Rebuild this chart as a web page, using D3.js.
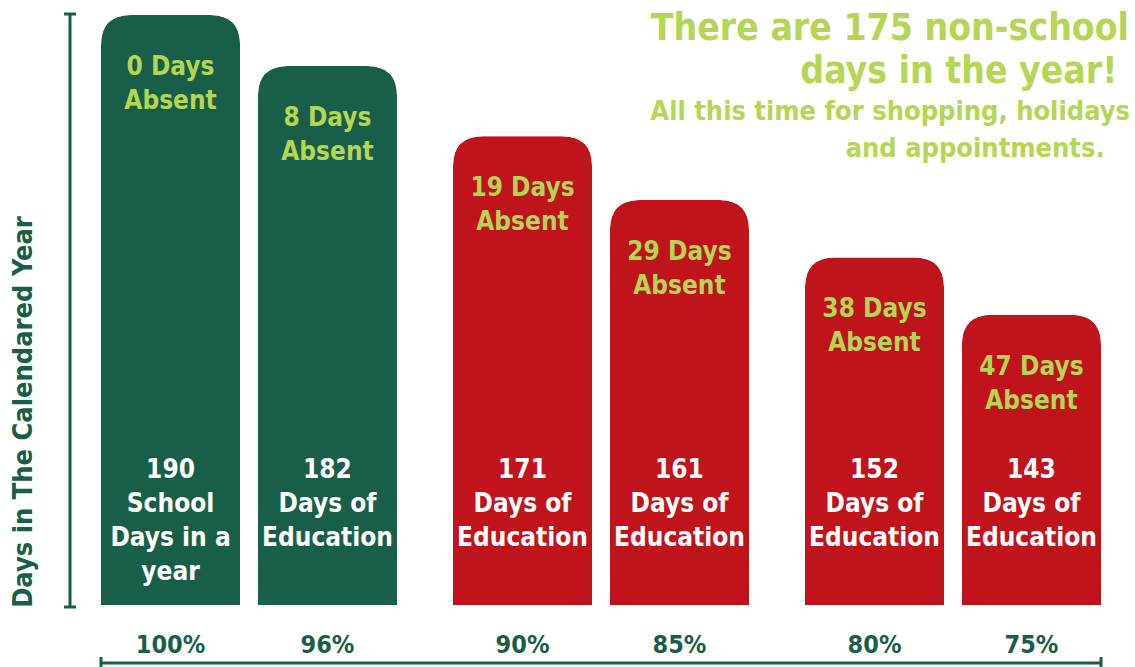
<!DOCTYPE html>
<html>
<head>
<meta charset="utf-8">
<script src="https://cdn.jsdelivr.net/npm/d3@7"></script>
<style>
  body { margin: 0; background: #fff; }
  text { font-family: "DejaVu Sans Condensed", "DejaVu Sans", sans-serif; font-weight: bold; }
</style>
</head>
<body>
<div class="chart"></div>
<script>
var svgWidth = 1135;
var svgHeight = 667;

// data
var groups = ["g1", "g1", "g2", "g2", "g3", "g3"];
var slots = [0, 1, 0, 1, 0, 1];
var attendance = ["100%", "96%", "90%", "85%", "80%", "75%"];
var educationDays = [190, 182, 171, 161, 152, 143];
var absentDays = [0, 8, 19, 29, 38, 47];
var bottomLines = [
  ["190", "School", "Days in a", "year"],
  ["182", "Days of", "Education"],
  ["171", "Days of", "Education"],
  ["161", "Days of", "Education"],
  ["152", "Days of", "Education"],
  ["143", "Days of", "Education"]
];
var barColors = ["#185e48", "#185e48", "#c0141c", "#c0141c", "#c0141c", "#c0141c"];
var titleLines = ["There are 175 non-school", "days in the year! "];
var subLines = ["All this time for shopping, holidays", "and appointments.   "];

var dark = "#185e48";
var lime = "#b5d554";

var svg = d3.select(".chart")
  .append("svg")
  .attr("width", svgWidth)
  .attr("height", svgHeight);

// scales
var xOuter = d3.scaleBand()
  .domain(["g1", "g2", "g3"])
  .range([101, 1101])
  .paddingInner(0.159)
  .paddingOuter(0);

var xInner = d3.scaleBand()
  .domain([0, 1])
  .range([0, xOuter.bandwidth()])
  .paddingInner(0.114)
  .paddingOuter(0);

var yScale = d3.scaleLinear()
  .domain([97.5, 190])
  .range([605, 15]);

var data = educationDays.map(function(v, i) {
  return {
    value: v, absent: absentDays[i], pct: attendance[i],
    x: xOuter(groups[i]) + xInner(slots[i]),
    lines: bottomLines[i], color: barColors[i], i: i
  };
});

var bw = xInner.bandwidth();
var r = 30;

function barPath(d) {
  var x0 = d.x, x1 = d.x + bw, y0 = yScale(d.value), yb = 605;
  return "M" + x0 + "," + yb +
    "L" + x0 + "," + (y0 + r) +
    "Q" + x0 + "," + y0 + " " + (x0 + r) + "," + y0 +
    "L" + (x1 - r) + "," + y0 +
    "Q" + x1 + "," + y0 + " " + x1 + "," + (y0 + r) +
    "L" + x1 + "," + yb + "Z";
}

var defs = svg.append("defs");
defs.selectAll("clipPath")
  .data(data)
  .enter()
  .append("clipPath")
  .attr("id", d => "clip" + d.i)
  .append("path")
  .attr("d", barPath);

var bars = svg.selectAll(".bar")
  .data(data)
  .enter()
  .append("g")
  .attr("class", "bar")
  .attr("clip-path", d => "url(#clip" + d.i + ")");

bars.append("path")
  .attr("d", barPath)
  .attr("fill", d => d.color);

// absent labels + education labels
bars.each(function(d) {
  var g = d3.select(this);
  var cx = d.x + bw / 2;
  var top = yScale(d.value);
  g.append("text")
    .attr("x", cx)
    .attr("y", top + 60)
    .attr("text-anchor", "middle")
    .attr("font-size", "26px")
    .attr("fill", lime)
    .text(d.absent + " Days");
  g.append("text")
    .attr("x", cx)
    .attr("y", top + 94)
    .attr("text-anchor", "middle")
    .attr("font-size", "26px")
    .attr("fill", lime)
    .text("Absent");
  d.lines.forEach(function(line, k) {
    g.append("text")
      .attr("x", cx)
      .attr("y", 478 + k * 34)
      .attr("text-anchor", "middle")
      .attr("font-size", "26px")
      .attr("fill", "#fff")
      .text(line);
  });
});

// percentage labels
svg.selectAll(".pct")
  .data(data)
  .enter()
  .append("text")
  .attr("class", "pct")
  .attr("x", d => d.x + bw / 2)
  .attr("y", 653)
  .attr("text-anchor", "middle")
  .attr("font-size", "25px")
  .attr("fill", dark)
  .text(d => d.pct);

// left axis bracket
svg.append("line")
  .attr("x1", 70).attr("x2", 70)
  .attr("y1", 14).attr("y2", 607)
  .attr("stroke", dark).attr("stroke-width", 3);
[14, 607].forEach(function(y) {
  svg.append("line")
    .attr("x1", 64).attr("x2", 76)
    .attr("y1", y).attr("y2", y)
    .attr("stroke", dark).attr("stroke-width", 3);
});

// bottom axis bracket
svg.append("line")
  .attr("x1", 101).attr("x2", 1101)
  .attr("y1", 663).attr("y2", 663)
  .attr("stroke", dark).attr("stroke-width", 3);
[101, 1101].forEach(function(x) {
  svg.append("line")
    .attr("x1", x).attr("x2", x)
    .attr("y1", 657).attr("y2", 667)
    .attr("stroke", dark).attr("stroke-width", 3);
});

// y axis title
svg.append("text")
  .attr("transform", "translate(32, 412) rotate(-90)")
  .attr("text-anchor", "middle")
  .attr("font-size", "27px")
  .attr("fill", dark)
  .text("Days in The Calendared Year");

// headline
svg.selectAll(".title")
  .data(titleLines)
  .enter()
  .append("text")
  .attr("class", "title")
  .attr("x", 1129)
  .attr("y", (d, i) => 40 + i * 43)
  .attr("text-anchor", "end")
  .attr("font-size", "37px")
  .attr("fill", lime)
  .style("white-space", "pre")
  .text(d => d);

svg.selectAll(".sub")
  .data(subLines)
  .enter()
  .append("text")
  .attr("class", "sub")
  .attr("x", 1130)
  .attr("y", (d, i) => 120 + i * 37)
  .attr("text-anchor", "end")
  .attr("font-size", "27px")
  .attr("fill", lime)
  .style("white-space", "pre")
  .text(d => d);
</script>
</body>
</html>
